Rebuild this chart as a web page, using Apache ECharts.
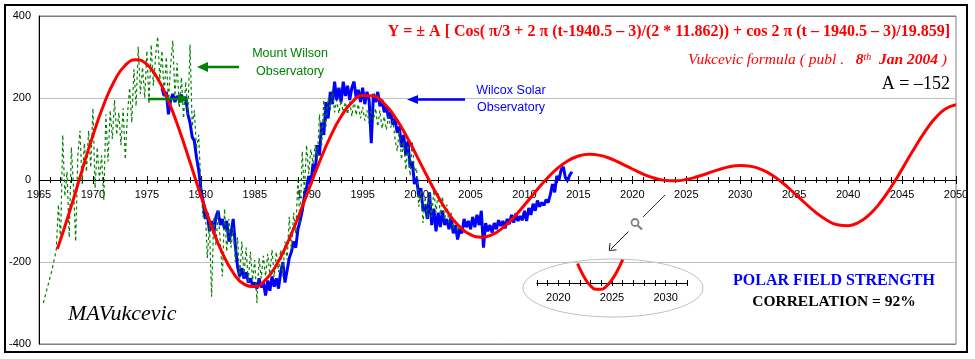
<!DOCTYPE html>
<html><head><meta charset="utf-8">
<script src="https://cdn.jsdelivr.net/npm/echarts@6/dist/echarts.min.js"></script>
<style>html,body{margin:0;padding:0;background:#fff}#c{width:975px;height:359px}</style>
</head><body><div id="c"></div>
<script>
// ---------- data ----------
const xMin = 1965, xMax = 2050, xStep = 5;
const yTicks = [-400, -200, 0, 200, 400];

// Vukcevic formula curve (red), first point then yearly from 1967
const redFirst = [1966.7, -168];
const redStartYear = 1967;
const redValues = [
  -145.5, -63.1, 24.2, 108.8, 183.6, 242.2, 279.8, 293.4, 282.2, 247.4,   // 1967-1976
  192.5, 122.4, 43.4, -37.6, -113.5, -178.2, -226.2, -254.0, -259.8, -243.6, // 1977-1986
  -207.6, -155.4, -92.2, -23.7, 44.1, 105.2, 154.8, 189.2, 206.0, 204.7,  // 1987-1996
  186.4, 153.5, 109.8, 59.6, 7.8, -41.0, -82.7, -114.1, -133.3, -139.5,   // 1997-2006
  -133.3, -116.3, -91.1, -61.0, -29.2, 1.0, 26.9, 46.5, 58.4, 62.8,       // 2007-2016
  60.1, 51.8, 40.1, 26.8, 14.5, 4.8, -0.9, -2.1, 1.1, 7.8,                // 2017-2026
  16.5, 25.3, 32.2, 35.3, 33.2, 25.1, 10.8, -8.6, -31.7, -56.1,           // 2027-2036
  -79.0, -97.5, -109.0, -111.3, -103.0, -83.7, -54.3, -16.5, 26.5, 71.2,  // 2037-2046
  113.2, 148.5, 173.0, 183.7                                              // 2047-2050
];

// Wilcox Solar Observatory (blue), sampled every 0.2 yr from 1976.4
const blueStart = 1976.4, blueStep = 0.2;
const blueValues = [
  224, 205, 215,
  160, 195, 210, 190, 205,
  196, 208, 194, 202, 160,
  140, 105, 95, 55, 25,
  -20, -50, -95, -80, -125,
  -100, -130, -90, -75, -110,
  -95, -120, -100, -150, -130,
  -95, -160, -210, -235, -215,
  -240, -225, -250, -240, -258,
  -250, -265, -240, -262, -250,
  -282, -245, -270, -235, -260,
  -240, -265, -225, -200, -250,
  -220, -190, -175, -150, -165,
  -120, -100, -75, -40, -20,
  10, -10, 40, 20, 85,
  60, 140, 110, 190, 150,
  215, 185, 240, 195, 225,
  190, 240, 205, 230, 195,
  225, 240, 200, 220, 190,
  225, 185, 215, 195, 90,
  210, 190, 215, 180, 195,
  165, 180, 150, 165, 135,
  150, 115, 130, 80, 110,
  60, 95, 30, 45, -10,
  5, -40, -20, -75, -60,
  -95, -30, -110, -70, -125,
  -80, -115, -75, -110, -95,
  -120, -90, -130, -110, -145,
  -120, -130, -95, -115, -100,
  -120, -90, -115, -85, -110,
  -75, -165, -105, -125, -110,
  -128, -105, -120, -98, -112,
  -100, -118, -95, -108, -85,
  -104, -82, -100, -88, -98,
  -75, -100, -68, -85, -58,
  -75, -50, -65, -55, -62,
  -48, -55, -35, -10, -30,
  10, 0, 25, 32, 5,
  -2, 12, 20
];

// Mount Wilson Observatory (green dashed), sampled every 0.2 yr from 1965.4
const greenStart = 1965.4, greenStep = 0.2;
const greenValues = [
  -300, -280, -260,
  -240, -220, -195, -170, -60,
  -150, 110, -40, 20, -140,
  80, -20, -150, 60, 120,
  -10, 90, 20, 120, 30,
  175, -20, 80, 0, 60,
  -50, 160, 45, 170, 100,
  195, 110, 165, 85, 175,
  50, 160, 225, 140, 270,
  180, 325, 210, 275, 200,
  315, 185, 330, 230, 300,
  350, 245, 315, 205, 300,
  190, 280, 340, 205, 285,
  175, 250, 150, 240, 160,
  330, 130, 170, 75, 110,
  -10, -90, -60, -190, -110,
  -285, -90, -160, -75, -150,
  -235, -70, -175, -95, -165,
  -115, -200, -140, -240, -150,
  -235, -165, -250, -175, -245,
  -195, -300, -190, -240, -185,
  -235, -180, -230, -170, -236,
  -175, -225, -170, -235, -150,
  -195, -90, -170, -80, -130,
  5, -110, 70, -30, 85,
  15, 75, 40, 85, 50,
  160, 85, 195, 130, 200,
  170, 220, 165, 195, 162,
  195, 165, 190, 160, 192,
  155, 195, 158, 185, 150,
  178, 145, 170, 138, 172,
  145, 175, 130, 170, 125,
  155, 122, 155, 128, 145,
  100, 70, 120, 50, 95,
  25, 85, 10, 95, 20,
  30, -65, -25, -105, -40,
  -95, -30, -90, -25, -80,
  -30, -85, -40, -98, -60,
  -105, -80, -120, -95, -125,
  -110
];

// Magnified inset (around 2024)
const insetMin = 2018, insetMax = 2032;
const insetYears  = [2021.8, 2022, 2022.5, 2023, 2023.5, 2024, 2024.5, 2025, 2025.5, 2026];
const insetValues = [6.5, 4.8, 1.4, -0.9, -2.1, -2.1, -1.0, 1.1, 4.1, 7.8];

// ---------- build ----------
const redData = [redFirst].concat(redValues.map((v, i) => [redStartYear + i, v]));
const blueData = blueValues.map((v, i) => [+(blueStart + i * blueStep).toFixed(2), v]);
const greenData = greenValues.map((v, i) => [+(greenStart + i * greenStep).toFixed(2), v]);
const insetData = insetYears.map((y, i) => [y, insetValues[i]]);

const SANS = '"Liberation Sans", Arial, sans-serif';
const SERIF = '"Liberation Serif", "Times New Roman", serif';

// main grid: top 16, height 328 -> zero line 164px above bottom edge
const MAIN_ZERO_OFFSET = -164;
// inset grid: height 60, zero in the middle
const INSET_ZERO_OFFSET = -30;

const chart = echarts.init(document.getElementById('c'), null, {renderer: 'canvas'});

const tickAxisCommon = {
  type: 'value', gridIndex: 0, min: xMin, max: xMax, interval: xStep,
  splitLine: {show: false}
};

chart.setOption({
  animation: false,
  backgroundColor: '#fff',
  grid: [
    {left: 39, right: 19, top: 16, bottom: 15, show: true, borderColor: '#808080', borderWidth: 1, backgroundColor: 'transparent'},
    {left: 536.8, top: 253, width: 150.4, height: 60, show: false}
  ],
  xAxis: [
    Object.assign({}, tickAxisCommon, {
      position: 'bottom', offset: MAIN_ZERO_OFFSET,
      axisLine: {onZero: false, lineStyle: {color: '#000', width: 1}},
      axisTick: {show: true, inside: false, length: 4, lineStyle: {color: '#000'}},
      minorTick: {show: true, splitNumber: 5, length: 3, lineStyle: {color: '#000'}},
      axisLabel: {color: '#000', fontFamily: SANS, fontSize: 11, margin: 9, formatter: v => String(v)}
    }),
    Object.assign({}, tickAxisCommon, {
      position: 'top', offset: MAIN_ZERO_OFFSET,
      axisLine: {show: false, onZero: false},
      axisTick: {show: true, inside: false, length: 4, lineStyle: {color: '#000'}},
      minorTick: {show: true, splitNumber: 5, length: 3, lineStyle: {color: '#000'}},
      axisLabel: {show: false}
    }),
    {
      type: 'value', gridIndex: 1, min: insetMin, max: insetMax, interval: 1, position: 'bottom', offset: INSET_ZERO_OFFSET,
      axisLine: {onZero: false, lineStyle: {color: '#000'}},
      axisTick: {show: true, inside: false, length: 3, lineStyle: {color: '#000'}},
      axisLabel: {interval: 0, color: '#000', fontFamily: SANS, fontSize: 11, margin: 9,
        formatter: v => (v % 5 === 0 ? String(v) : '')},
      splitLine: {show: false}
    },
    {
      type: 'value', gridIndex: 1, min: insetMin, max: insetMax, interval: 1, position: 'top', offset: INSET_ZERO_OFFSET,
      axisLine: {show: false, onZero: false},
      axisTick: {show: true, inside: false, length: 3, lineStyle: {color: '#000'}},
      axisLabel: {show: false},
      splitLine: {show: false}
    }
  ],
  yAxis: [
    {
      type: 'value', gridIndex: 0, min: yTicks[0], max: yTicks[yTicks.length - 1], interval: 200,
      position: 'left',
      axisLine: {show: true, onZero: false, lineStyle: {color: '#000'}},
      axisTick: {show: false},
      axisLabel: {color: '#000', fontFamily: SANS, fontSize: 11, margin: 8},
      splitLine: {show: true, lineStyle: {color: ['#808080', '#c0c0c0', '#c0c0c0', '#c0c0c0', '#808080'], width: 1}}
    },
    {type: 'value', gridIndex: 1, min: -10, max: 10, show: false}
  ],
  series: [
    {type: 'line', name: 'Wilcox', xAxisIndex: 0, yAxisIndex: 0, data: blueData, showSymbol: false,
      lineStyle: {color: '#0000ff', width: 3}, z: 2},
    {type: 'line', name: 'Mount Wilson', xAxisIndex: 0, yAxisIndex: 0, data: greenData, showSymbol: false,
      lineStyle: {color: '#008000', width: 1.2, type: [3, 3]}, z: 3},
    {type: 'line', name: 'Formula', xAxisIndex: 0, yAxisIndex: 0, data: redData, showSymbol: false, smooth: true,
      lineStyle: {color: '#ff0000', width: 3}, z: 4},
    {type: 'line', name: 'Inset', xAxisIndex: 2, yAxisIndex: 1, data: insetData, showSymbol: false, smooth: true,
      lineStyle: {color: '#ff0000', width: 3}, z: 4}
  ],
  graphic: [
    {type: 'rect', shape: {x: 5, y: 5, width: 962, height: 347}, style: {fill: 'none', stroke: '#000', lineWidth: 2}, z: 100},
    {type: 'text', x: 950, y: 32, style: {text: 'Y = ± A [ Cos( π/3 + 2 π (t-1940.5 – 3)/(2 * 11.862)) + cos 2 π (t – 1940.5 – 3)/19.859]',
      font: 'bold 16px ' + SERIF, fill: '#ff0000', align: 'right', verticalAlign: 'middle'}, z: 100},
    {type: 'text', x: 947, y: 60, style: {
      text: '{i|Vukcevic formula ( publ .   }{b|8}{s|th}{b|  Jan 2004}{i| )}',
      align: 'right', verticalAlign: 'middle', fill: '#ff0000',
      rich: {
        i: {font: 'italic 15.5px ' + SERIF, fill: '#ff0000'},
        b: {font: 'italic bold 15.5px ' + SERIF, fill: '#ff0000'},
        s: {font: 'italic 10px ' + SERIF, fill: '#ff0000', verticalAlign: 'top'}
      }}, z: 100},
    {type: 'text', x: 950, y: 84, style: {text: 'A = –152', font: '18px ' + SERIF, fill: '#000', align: 'right', verticalAlign: 'middle'}, z: 100},
    {type: 'text', x: 290, y: 63, style: {text: 'Mount Wilson\nObservatory', font: '12.5px ' + SANS, lineHeight: 18, fill: '#008000', align: 'center', verticalAlign: 'middle'}, z: 100},
    {type: 'line', shape: {x1: 205, y1: 67, x2: 239, y2: 67}, style: {stroke: '#008000', lineWidth: 2.5}, z: 100},
    {type: 'polygon', shape: {points: [[197, 67], [208, 62], [208, 72]]}, style: {fill: '#008000'}, z: 100},
    {type: 'line', shape: {x1: 148, y1: 99, x2: 180, y2: 99}, style: {stroke: '#008000', lineWidth: 2.5}, z: 100},
    {type: 'polygon', shape: {points: [[189, 99], [178, 94], [178, 104]]}, style: {fill: '#008000'}, z: 100},
    {type: 'text', x: 511, y: 99, style: {text: 'Wilcox Solar\nObservatory', font: '12.5px ' + SANS, lineHeight: 17, fill: '#0000ff', align: 'center', verticalAlign: 'middle'}, z: 100},
    {type: 'line', shape: {x1: 414, y1: 99.5, x2: 465, y2: 99.5}, style: {stroke: '#0000ff', lineWidth: 2.5}, z: 100},
    {type: 'polygon', shape: {points: [[407, 99.5], [418, 95], [418, 104]]}, style: {fill: '#0000ff'}, z: 100},
    {type: 'text', x: 834, y: 281, style: {text: 'POLAR FIELD STRENGTH', font: 'bold 16px ' + SERIF, fill: '#0000ff', align: 'center', verticalAlign: 'middle'}, z: 100},
    {type: 'text', x: 834, y: 302, style: {text: 'CORRELATION = 92%', font: 'bold 15.5px ' + SERIF, fill: '#000', align: 'center', verticalAlign: 'middle'}, z: 100},
    {type: 'text', x: 68, y: 314, style: {text: 'MAVukcevic', font: 'italic 22px ' + SERIF, fill: '#000', align: 'left', verticalAlign: 'middle'}, z: 100},
    {type: 'ellipse', shape: {cx: 613, cy: 288, rx: 90, ry: 29}, style: {fill: 'none', stroke: '#c0c0c0', lineWidth: 1}, z: 1},
    {type: 'line', shape: {x1: 643, y1: 217, x2: 665, y2: 195}, style: {stroke: '#000', lineWidth: 0.8}, z: 100},
    {type: 'circle', shape: {cx: 635, cy: 222.5, r: 3.5}, style: {fill: 'none', stroke: '#808080', lineWidth: 1.8}, z: 100},
    {type: 'line', shape: {x1: 637.8, y1: 225.5, x2: 642, y2: 229.5}, style: {stroke: '#808080', lineWidth: 2.2}, z: 100},
    {type: 'line', shape: {x1: 628.5, y1: 231.5, x2: 611, y2: 249}, style: {stroke: '#000', lineWidth: 0.9}, z: 100},
    {type: 'polyline', shape: {points: [[610, 243], [609.3, 250.5], [616.5, 249.8]]}, style: {stroke: '#000', fill: 'none', lineWidth: 0.9}, z: 100}
  ]
});
</script>
</body></html>
